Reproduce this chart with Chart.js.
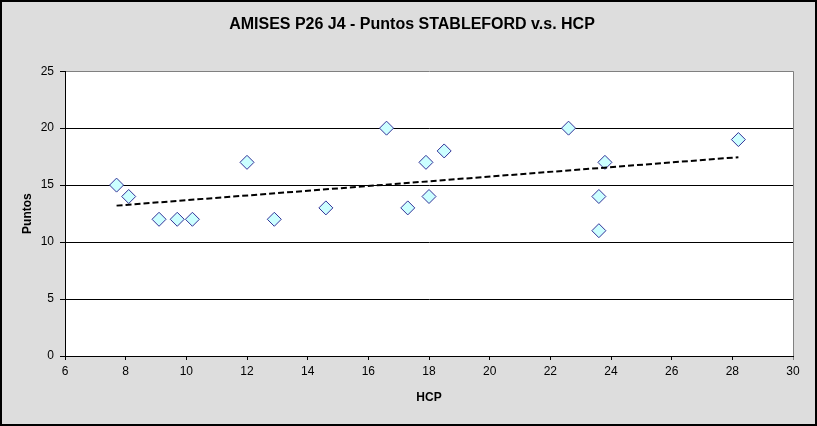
<!DOCTYPE html>
<html>
<head>
<meta charset="utf-8">
<title>AMISES P26 J4</title>
<script src="https://cdn.jsdelivr.net/npm/chart.js@4.4.0/dist/chart.umd.min.js"></script>
<style>
  html, body { margin: 0; padding: 0; background: #dddddd; }
  #wrap { width: 817px; height: 426px; }
</style>
</head>
<body>
<div id="wrap"><canvas id="scatterChart" width="817" height="426"></canvas></div>
<script>
// HCP of each player and the Stableford points they scored
var hcp    = [7.7, 8.1, 9.1, 9.7, 10.2, 12.0, 12.9, 14.6, 16.6, 17.3, 17.9, 18.0, 18.5, 22.6, 23.6, 23.6, 23.8, 28.2];
var puntos = [15, 14, 12, 12, 12, 17, 12, 13, 20, 13, 17, 14, 18, 20, 14, 11, 17, 19];
// linear trend line, end points
var trendX = [7.7, 28.2];
var trendY = [13.2, 17.45];
var xTicks = [6, 8, 10, 12, 14, 16, 18, 20, 22, 24, 26, 28, 30];
var yTicks = [0, 5, 10, 15, 20, 25];

var FONT = "Arial, 'Liberation Sans', sans-serif";

$ready();
function $ready() {
    var ctx = document.getElementById("scatterChart").getContext('2d');

    var points = hcp.map(function (h, i) { return { x: h, y: puntos[i] }; });
    var trend = trendX.map(function (t, i) { return { x: t, y: trendY[i] }; });

    // grey background and black frame of the whole chart
    var frame = {
        id: 'frame',
        beforeDraw: function (chart) {
            var c = chart.ctx;
            c.save();
            c.fillStyle = '#dddddd';
            c.fillRect(0, 0, chart.width, chart.height);
            var a = chart.chartArea;
            c.fillStyle = '#ffffff';
            c.fillRect(a.left, a.top, a.right - a.left, a.bottom - a.top);
            c.restore();
        },
        afterDraw: function (chart) {
            var c = chart.ctx;
            c.save();
            c.strokeStyle = '#000000';
            c.lineWidth = 2;
            c.strokeRect(1, 1, chart.width - 2, chart.height - 2);
            c.restore();
        }
    };

    new Chart(ctx, {
        type: 'scatter',
        data: {
            datasets: [{
                label: 'Tendencia',
                data: trend,
                showLine: true,
                borderColor: '#000000',
                borderWidth: 2,
                borderDash: [6, 3],
                pointRadius: 0,
                fill: false
            }, {
                label: 'Puntos',
                data: points,
                pointStyle: 'rectRot',
                pointRadius: 7,
                backgroundColor: '#ccffff',
                borderColor: '#333399',
                borderWidth: 1
            }]
        },
        options: {
            responsive: false,
            animation: false,
            layout: { padding: { left: 7, right: 0, top: 0, bottom: 0 } },
            plugins: {
                legend: { display: false },
                tooltip: { enabled: false },
                title: {
                    display: true,
                    text: 'AMISES P26 J4 - Puntos STABLEFORD v.s. HCP',
                    color: '#000000',
                    font: { family: FONT, size: 16, weight: 'bold' },
                    padding: { top: 15, bottom: 37 }
                }
            },
            scales: {
                x: {
                    type: 'linear',
                    min: 6,
                    max: 30,
                    afterBuildTicks: function (scale) {
                        scale.ticks = xTicks.map(function (v) { return { value: v }; });
                    },
                    afterFit: function (scale) { scale.height = 70; },
                    ticks: {
                        color: '#000000',
                        font: { family: FONT, size: 12 },
                        padding: 4,
                        maxRotation: 0,
                        autoSkip: false
                    },
                    grid: {
                        color: function (c) { return c.tick && c.tick.value === 30 ? '#808080' : 'rgba(0,0,0,0)'; },
                        tickColor: function (c) { return c.tick && c.tick.value === 30 ? '#808080' : '#000000'; },
                        tickLength: 4,
                        lineWidth: 1
                    },
                    border: { display: true, color: '#000000', width: 1 },
                    title: {
                        display: true,
                        text: 'HCP',
                        color: '#000000',
                        font: { family: FONT, size: 12, weight: 'bold' },
                        padding: { top: 0, bottom: 21 }
                    }
                },
                y: {
                    type: 'linear',
                    min: 0,
                    max: 25,
                    afterBuildTicks: function (scale) {
                        scale.ticks = yTicks.map(function (v) { return { value: v }; });
                    },
                    afterFit: function (scale) { scale.width = 58; },
                    ticks: {
                        color: '#000000',
                        font: { family: FONT, size: 12 },
                        padding: 6
                    },
                    grid: {
                        color: function (c) { return c.tick && c.tick.value === 25 ? '#808080' : '#000000'; },
                        tickColor: '#000000',
                        tickLength: 5,
                        lineWidth: 1
                    },
                    border: { display: true, color: '#000000', width: 1 },
                    title: {
                        display: true,
                        text: 'Puntos',
                        color: '#000000',
                        font: { family: FONT, size: 12, weight: 'bold' },
                        padding: { top: 13, bottom: 0 }
                    }
                },
                // empty axis on the right, only keeps the grey margin there
                yRight: {
                    type: 'linear',
                    position: 'right',
                    min: 0,
                    max: 25,
                    afterFit: function (scale) { scale.width = 24; },
                    ticks: { display: false },
                    grid: { display: false },
                    border: { display: false }
                }
            }
        },
        plugins: [frame]
    });
}
</script>
</body>
</html>
